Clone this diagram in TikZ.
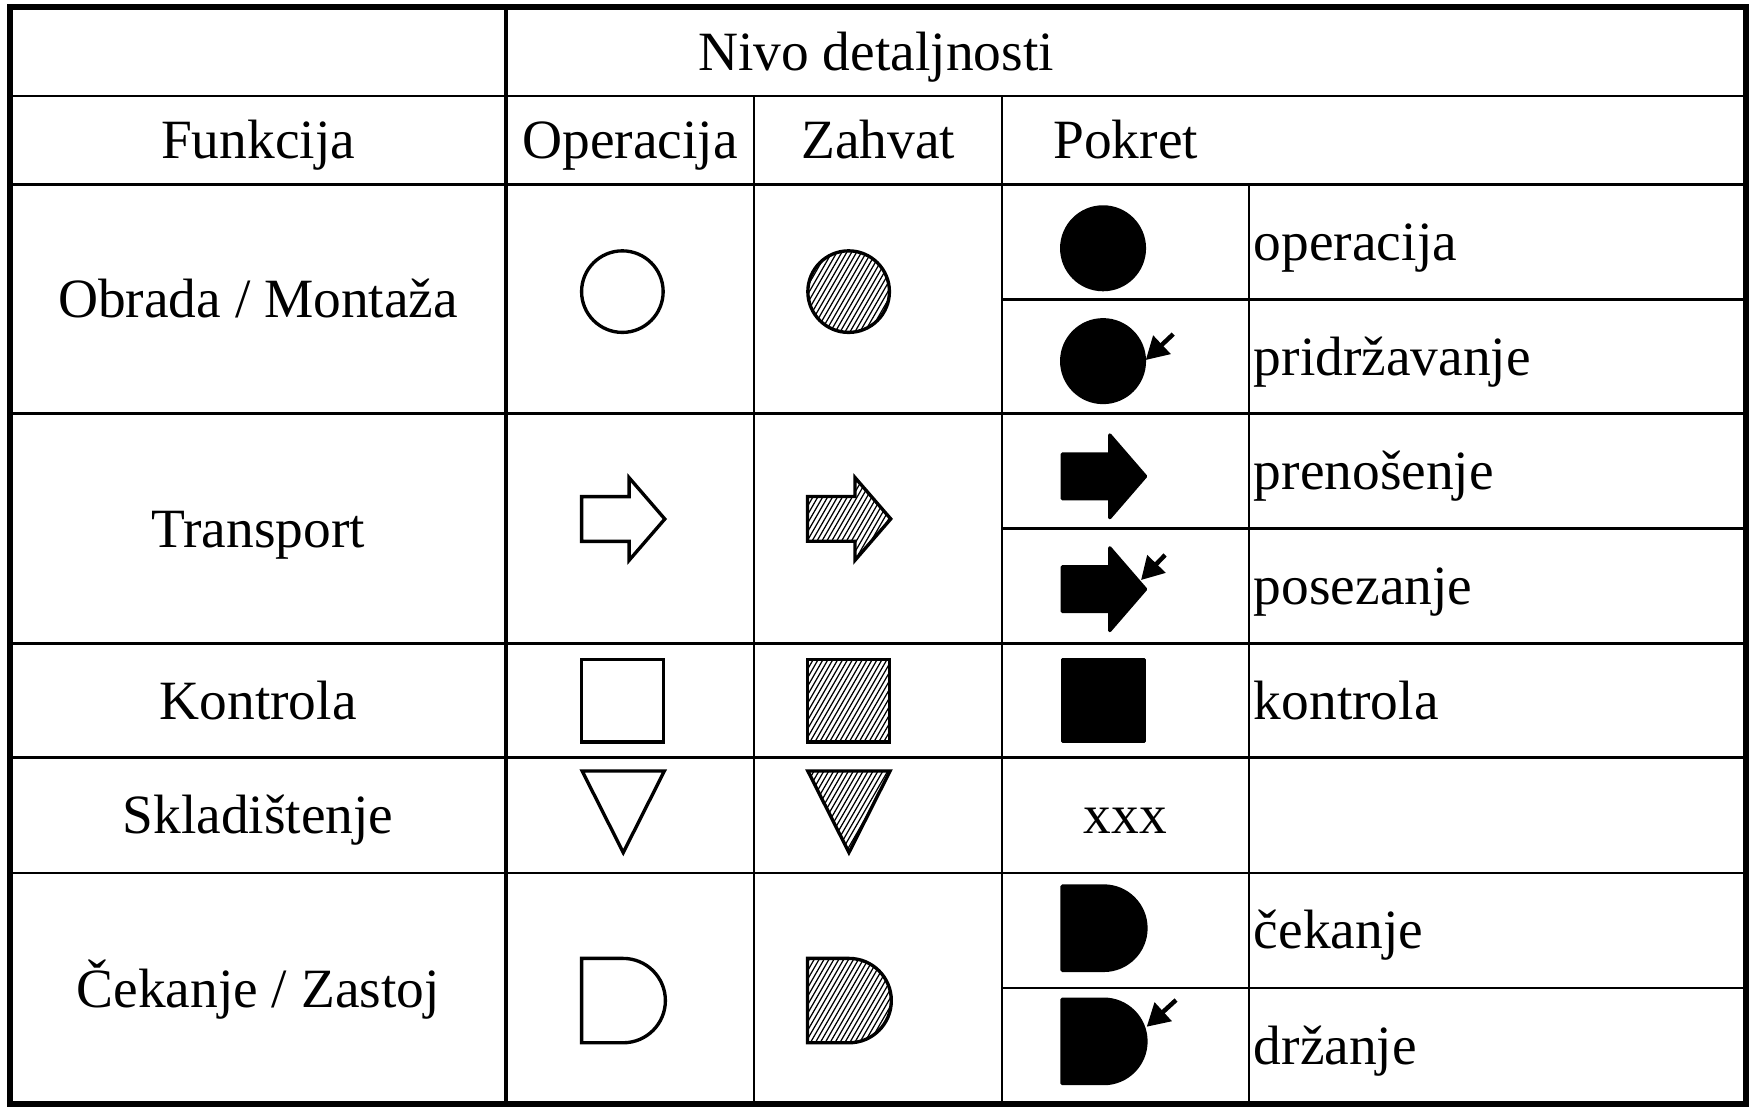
\documentclass[tikz,border=0pt]{standalone}
\usepackage{fontspec}
\setmainfont{Liberation Serif}
\usetikzlibrary{arrows.meta}
\newcommand\hatchlines{\foreach \k in {-24,...,24}{\draw[line width=1.1pt] ({\k*4.4-30},52) -- ({\k*4.4+30},-52);}}
\tikzset{
  lbl/.style={inner sep=0pt, text height=44.2pt, text depth=10.7pt, font=\fontsize{49.6}{59}\selectfont},
  rlbl/.style={lbl, anchor=west},
  outline/.style={draw=black, line width=3pt},
  solid/.style={draw=black, fill=black, line width=3pt, line join=round},
  thinl/.style={line width=2pt},
  thickl/.style={line width=3.4pt},
  small/.style={line width=4pt, -{Triangle[length=20pt,width=22pt]}},
  pics/ocirc/.style={code={\draw[outline] (0,0) circle[radius=36.5];}},
  pics/hcirc/.style={code={\begin{scope}\clip (0,0) circle[radius=36.5];\hatchlines\end{scope}
     \draw[outline] (0,0) circle[radius=36.5];}},
  pics/fcirc/.style={code={\fill[black] (0,0) circle[radius=38.5];}},
  pics/oarr/.style={code={\draw[outline] (-37.5,-20) -- (5,-20) -- (5,-37) -- (37,0) -- (5,37) -- (5,20) -- (-37.5,20) -- cycle;}},
  pics/harr/.style={code={\begin{scope}\clip (-37.5,-20) -- (5,-20) -- (5,-37) -- (37,0) -- (5,37) -- (5,20) -- (-37.5,20) -- cycle;\hatchlines\end{scope}
     \draw[outline] (-37.5,-20) -- (5,-20) -- (5,-37) -- (37,0) -- (5,37) -- (5,20) -- (-37.5,20) -- cycle;}},
  pics/farr/.style={code={\draw[solid] (-37.5,-20) -- (5,-20) -- (5,-37) -- (37,0) -- (5,37) -- (5,20) -- (-37.5,20) -- cycle;}},
  pics/osq/.style={code={\draw[outline] (-36.8,-36.8) rectangle (36.8,36.8);}},
  pics/hsq/.style={code={\begin{scope}\clip (-36.8,-36.8) rectangle (36.8,36.8);\hatchlines\end{scope}
     \draw[outline] (-36.8,-36.8) rectangle (36.8,36.8);}},
  pics/fsq/.style={code={\draw[solid] (-36.8,-36.8) rectangle (36.8,36.8);}},
  pics/otri/.style={code={\draw[outline] (-36.8,-37.4) -- (36.8,-37.4) -- (0,35.6) -- cycle;}},
  pics/htri/.style={code={\begin{scope}\clip (-36.8,-37.4) -- (36.8,-37.4) -- (0,35.6) -- cycle;\hatchlines\end{scope}
     \draw[outline] (-36.8,-37.4) -- (36.8,-37.4) -- (0,35.6) -- cycle;}},
  pics/oD/.style={code={\draw[outline] (-37.5,-37.75) -- (-0.25,-37.75) .. controls (20.6,-37.75) and (37.5,-20.85) .. (37.5,0) .. controls (37.5,20.85) and (20.6,37.75) .. (-0.25,37.75) -- (-37.5,37.75) -- cycle;}},
  pics/hD/.style={code={\begin{scope}\clip (-37.5,-37.75) -- (-0.25,-37.75) .. controls (20.6,-37.75) and (37.5,-20.85) .. (37.5,0) .. controls (37.5,20.85) and (20.6,37.75) .. (-0.25,37.75) -- (-37.5,37.75) -- cycle;\hatchlines\end{scope}
     \draw[outline] (-37.5,-37.75) -- (-0.25,-37.75) .. controls (20.6,-37.75) and (37.5,-20.85) .. (37.5,0) .. controls (37.5,20.85) and (20.6,37.75) .. (-0.25,37.75) -- (-37.5,37.75) -- cycle;}},
  pics/fD/.style={code={\draw[solid] (-37.5,-37.75) -- (-0.25,-37.75) .. controls (20.6,-37.75) and (37.5,-20.85) .. (37.5,0) .. controls (37.5,20.85) and (20.6,37.75) .. (-0.25,37.75) -- (-37.5,37.75) -- cycle;}},
}
\begin{document}
\begin{tikzpicture}[x=1pt, y=-1pt]
\useasboundingbox[fill=white] (0,0) rectangle (1568,993);
% grid lines
\draw[thinl, line width=2.2pt] (9,86) -- (1563,86);
\draw[thickl, line width=3.3pt] (9,165) -- (1563,165);
\foreach \yy in {370,576,678,781} \draw[thinl] (9,\yy) -- (1563,\yy);
\foreach \yy in {268,473,884} \draw[thinl] (897,\yy) -- (1563,\yy);
\draw[thickl] (453,6) -- (453,988);
\draw[thinl] (675,86) -- (675,988);
\draw[thinl] (897,86) -- (897,988);
\draw[thinl] (1118,165) -- (1118,988);
\draw[line width=5.4pt] (9,6) rectangle (1563,988);
% header texts
\node[lbl] (nivo) at (784,46) {Nivo detaljnosti};
\node[lbl] (funk) at (231,125.5) {Funkcija};
\node[lbl] (oper) at (564,125.5) {Operacija};
\node[lbl] (zahv) at (786,125.5) {Zahvat};
\node[lbl] (pokr) at (1007.5,125.5) {Pokret};
% row labels
\node[lbl] (obrada) at (231,267.5) {Obrada / Montaža};
\node[lbl] (transp) at (231,473) {Transport};
\node[lbl] (kontr) at (231,627) {Kontrola};
\node[lbl] (sklad) at (231,729.5) {Skladištenje};
\node[lbl] (cekanje) at (231,884.5) {Čekanje / Zastoj};
% right labels
\node[rlbl] (l1) at (1122,216.5) {operacija};
\node[rlbl] (l2) at (1122,319) {pridržavanje};
\node[rlbl] (l3) at (1122,421.5) {prenošenje};
\node[rlbl] (l4) at (1122,524.5) {posezanje};
\node[rlbl] (l5) at (1122,627) {kontrola};
\node[rlbl] (l7) at (1122,832.5) {čekanje};
\node[rlbl] (l8) at (1122,936) {držanje};
\node[lbl] (xxx) at (1007,729.5) {xxx};
% symbols
\pic at (557,261) {ocirc};
\pic at (759.5,261) {hcirc};
\pic at (987.2,222.2) {fcirc};
\pic at (987.2,323.2) {fcirc};
\pic at (558,464.5) {oarr};
\pic at (760.2,464.4) {harr};
\pic at (988.2,426.3) {farr};
\pic at (988.2,527.3) {farr};
\pic at (557,627.2) {osq};
\pic at (759.3,627.2) {hsq};
\pic at (987.5,627) {fsq};
\pic at (557.8,727.4) {otri};
\pic at (759.8,727.4) {htri};
\pic at (558,895.5) {oD};
\pic at (760.2,895.5) {hD};
\pic at (988.1,830.7) {fD};
\pic at (988.1,932) {fD};
% small arrows
\coordinate (a1s) at (1050,299);   \coordinate (a1e) at (1025.4,322.2);
\coordinate (a2s) at (1042.7,496.7); \coordinate (a2e) at (1021.2,519.1);
\coordinate (a3s) at (1052.5,895); \coordinate (a3e) at (1026.3,918.9);
\draw[small] (a1s) -- (a1e);
\draw[small] (a2s) -- (a2e);
\draw[small] (a3s) -- (a3e);
\end{tikzpicture}
\end{document}
